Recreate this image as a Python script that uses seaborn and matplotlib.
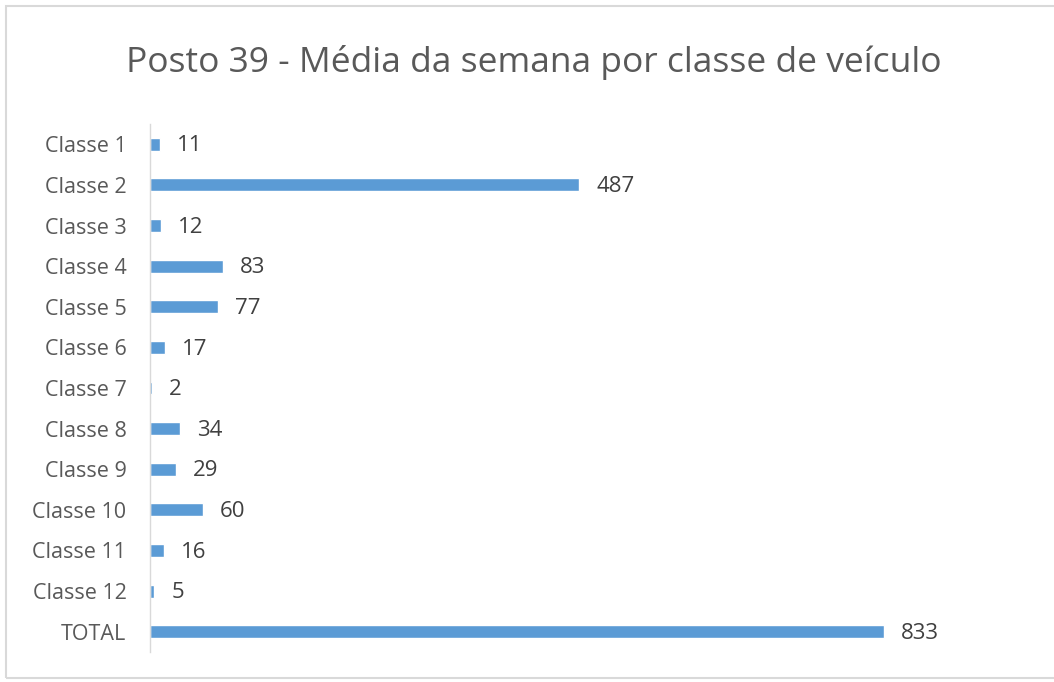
import matplotlib
matplotlib.use("Agg")
import matplotlib.pyplot as plt
import seaborn as sns
import pandas as pd
from matplotlib.patches import Rectangle

classes = ["Classe 1", "Classe 2", "Classe 3", "Classe 4", "Classe 5", "Classe 6",
           "Classe 7", "Classe 8", "Classe 9", "Classe 10", "Classe 11", "Classe 12", "TOTAL"]
media = [11, 487, 12, 83, 77, 17, 2, 34, 29, 60, 16, 5, 833]

df = pd.DataFrame({"classe": classes, "media": media})

sns.set_style("white")
plt.rcParams["font.family"] = ["Open Sans", "DejaVu Sans"]

fig = plt.figure(figsize=(10.54, 6.82), dpi=100)
ax = fig.add_axes([150/1054, 1-652/682, 860/1054, 528/682])

sns.barplot(data=df, x="media", y="classe", orient="h", color="#5B9BD5",
            saturation=1, width=0.32, ax=ax)

for i, v in enumerate(media):
    ax.text(v + 17/0.881, i + 0.04, str(v), va="center", ha="left", fontsize=16, color="#404040")

ax.set_xlim(0, 976)
ax.set_xlabel("")
ax.set_ylabel("")
ax.set_xticks([])
ax.tick_params(axis="y", length=0, labelsize=15.5, labelcolor="#595959", pad=17)
for s in ["top", "right", "bottom"]:
    ax.spines[s].set_visible(False)
ax.spines["left"].set_color("#D9D9D9")
ax.spines["left"].set_linewidth(1)

fig.text(534/1054, 1-62/682, "Posto 39 - Média da semana por classe de veículo",
         ha="center", va="center", fontsize=25.5, color="#595959")

fig.patches.append(Rectangle((6/1054, 4/682), 1.1, 672/682, transform=fig.transFigure,
                             fill=False, edgecolor="#D9D9D9", linewidth=1.5))

fig.savefig("out.png", dpi=100)
